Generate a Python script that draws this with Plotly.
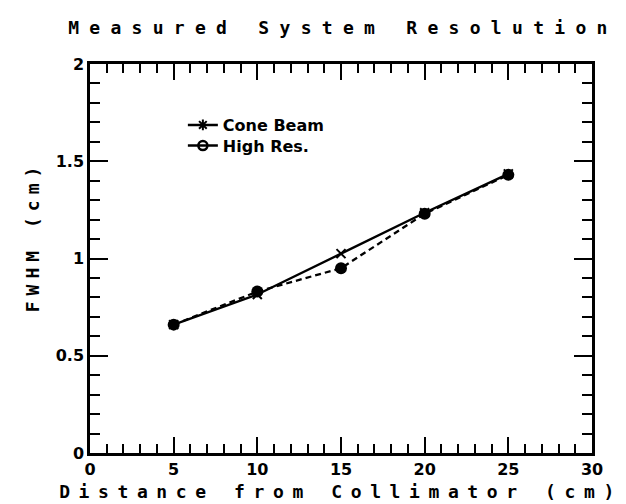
import plotly.graph_objects as go

distance = [5, 10, 15, 20, 25]
cone_beam = [0.66, 0.815, 1.025, 1.235, 1.435]
high_res = [0.66, 0.83, 0.95, 1.23, 1.43]

x_ticks = [0, 5, 10, 15, 20, 25, 30]
y_ticks = [0, 0.5, 1, 1.5, 2]
y_tick_text = ["0", "0.5", "1", "1.5", "2"]

MONO = "DejaVu Sans Mono"
SANS = "DejaVu Sans"

fig = go.Figure()
# data traces
fig.add_trace(go.Scatter(
    x=distance, y=cone_beam, name="Cone Beam", mode="lines+markers",
    showlegend=False,
    line=dict(color="black", width=2.3),
    marker=dict(symbol="x-thin-open", size=9, color="black",
                line=dict(color="black", width=2)),
))
fig.add_trace(go.Scatter(
    x=distance, y=high_res, name="High Res.", mode="lines+markers",
    showlegend=False,
    line=dict(color="black", width=2.3, dash="6px,4px"),
    marker=dict(symbol="circle", size=12, color="black"),
))
# legend entries (styled like the reference key)
fig.add_trace(go.Scatter(
    x=[None], y=[None], name="Cone Beam", mode="lines+markers", legend="legend",
    line=dict(color="black", width=2.5),
    marker=dict(symbol="asterisk-open", size=9, color="black",
                line=dict(color="black", width=2)),
))
fig.add_trace(go.Scatter(
    x=[None], y=[None], name="High Res.", mode="lines+markers", legend="legend2",
    line=dict(color="black", width=2.5),
    marker=dict(symbol="circle-open", size=9, color="black",
                line=dict(color="black", width=2.5)),
))

axis_common = dict(
    showline=True, linecolor="black", linewidth=2.5, mirror="allticks",
    ticks="inside", tickcolor="black", tickwidth=2,
    showgrid=False, zeroline=False,
    tickfont=dict(family=SANS, size=16, color="black", weight="bold"),
)

fig.update_xaxes(
    range=[0, 30], tickvals=x_ticks, ticklen=16,
    minor=dict(dtick=1, ticks="inside", ticklen=9, tickwidth=2, tickcolor="black"),
    title=dict(text="Distance from Collimator (cm)", standoff=8,
               font=dict(family=MONO, size=18, color="black", weight="bold")),
    **axis_common,
)
fig.update_yaxes(
    range=[0, 2], tickvals=y_ticks, ticktext=y_tick_text, ticklen=18,
    minor=dict(dtick=0.1, ticks="inside", ticklen=10, tickwidth=2, tickcolor="black"),
    **axis_common,
)

fig.add_annotation(
    text="FWHM (cm)", xref="paper", yref="paper", x=-0.113, y=0.558,
    textangle=-90, showarrow=False, xanchor="center", yanchor="middle",
    font=dict(family=MONO, size=18, color="black", weight="bold"),
)

legend_style = dict(xanchor="left", yanchor="middle", bgcolor="rgba(0,0,0,0)",
                    itemwidth=30,
                    font=dict(family=SANS, size=16, color="black", weight="bold"))

fig.update_layout(
    width=626, height=504,
    margin=dict(l=82, r=42, t=56, b=59),
    paper_bgcolor="white", plot_bgcolor="white",
    title=dict(text="Measured System Resolution", x=0.535, xanchor="center",
               y=0.96, yanchor="middle",
               font=dict(family=MONO, size=18, color="black", weight="bold")),
    showlegend=True,
    legend=dict(x=0.185, y=0.843, **legend_style),
    legend2=dict(x=0.185, y=0.790, **legend_style),
)

post = """
var gd = document.getElementById('{plot_id}');
function spacing(){
  gd.querySelectorAll('text.gtitle').forEach(function(t){t.style.letterSpacing='10.3px';});
  gd.querySelectorAll('text.xtitle').forEach(function(t){t.style.letterSpacing='8.6px';});
  gd.querySelectorAll('g.annotation text').forEach(function(t){t.style.letterSpacing='6px';});
}
spacing();
"""
fig.write_html("out.html", post_script=post)
